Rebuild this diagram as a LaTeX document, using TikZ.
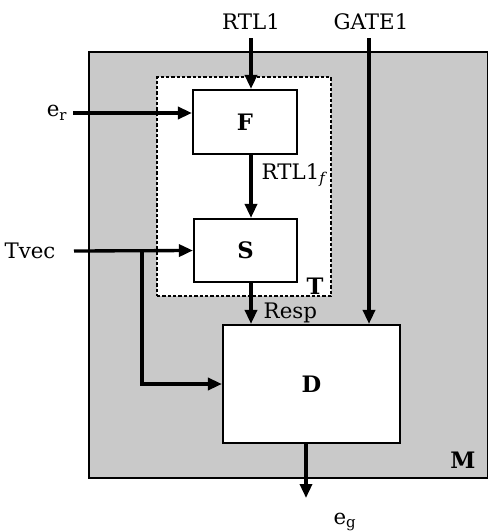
\documentclass[tikz,border=0pt]{standalone}
\usepackage{fontspec}
\setmainfont{DejaVu Serif}
\usetikzlibrary{arrows.meta,positioning}

\tikzset{
  txt/.style={font=\fontsize{16}{18}\selectfont},
  bold/.style={font=\fontsize{17}{19}\selectfont\bfseries},
  block/.style={draw,fill=white,line width=1.6pt,bold},
  sig/.style={line width=2.5pt,-{Triangle[length=10.5pt,width=9pt]}}
}

\begin{document}
\begin{tikzpicture}[x=0.75pt,y=-0.75pt]
\useasboundingbox (0,0) rectangle (487,532);
% module M and test part T
\node[draw,line width=1.6pt,fill=black!21,minimum width=299.25pt,minimum height=319.5pt] (M) at (288.5,265) {};
\node[draw,dash pattern=on 2.5pt off 1.5pt,line width=0.8pt,fill=white,minimum width=130.5pt,minimum height=164.25pt] (T) at (244,186.5) {};
% blocks
\node[block,minimum width=78pt,minimum height=48pt] (F) at (245,122) {F};
\node[block,minimum width=77.25pt,minimum height=47.25pt] (S) at (245.5,250.5) {S};
\node[block,minimum width=132.75pt,minimum height=88.5pt] (D) at (311.5,384) {D};
% texts
\node[txt] (rtl) at (251,22) {RTL1};
\node[txt] (gate) at (371,22) {GATE1};
\node[txt] (er) at (57,113) {e\textsubscript{r}};
\node[txt] (tvec) at (30,251) {Tvec};
\node[txt] (eg) at (345,522) {e\textsubscript{g}};
\node[txt,anchor=west] (rtlf) at (257,175) {RTL1\textsubscript{\itshape f}};
\node[txt,anchor=west] (resp) at (259,313) {Resp};
\node[bold] (tlbl) at (315,286) {T};
\node[bold] (mlbl) at (463,460) {M};
% signal ends
\coordinate (rtlin) at (251,38);
\coordinate (gatein) at (369,38);
\coordinate (erin) at (73,113);
\coordinate (tvin) at (74,251);
\coordinate (br) at (142,251);
\coordinate (egout) at (306,498);
% signals
\draw[sig] (rtlin) -- (rtlin |- F.north);
\draw[sig] (rtlin |- F.south) -- (rtlin |- S.north);
\draw[sig] (rtlin |- S.south) -- (rtlin |- D.north);
\draw[sig] (gatein) -- (gatein |- D.north);
\draw[sig] (erin) -- (erin -| F.west);
\draw[sig] (tvin) -- (S.west);
\draw[sig] (br) |- (D.west);
\draw[sig] (egout |- D.south) -- (egout);
\end{tikzpicture}
\end{document}
